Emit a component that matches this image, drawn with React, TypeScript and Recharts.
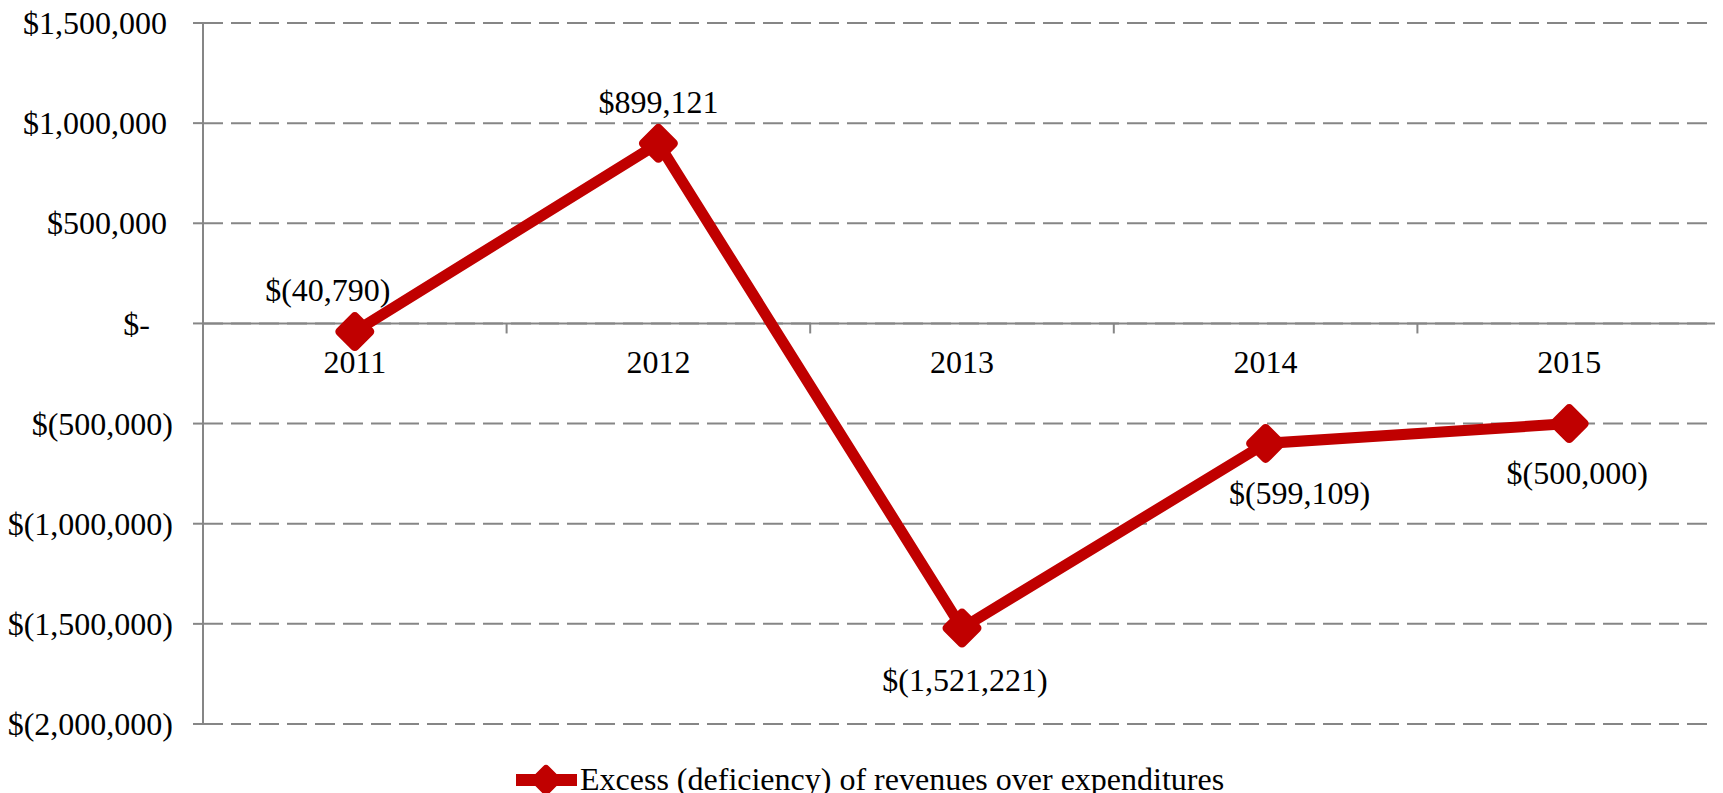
import { LineChart, Line, XAxis, YAxis, CartesianGrid, ReferenceLine, ReferenceDot, LabelList, Legend } from 'recharts'

const years = ['2011', '2012', '2013', '2014', '2015']
const excess = [-40790, 899121, -1521221, -599109, -500000]
const yTicks = [-2000000, -1500000, -1000000, -500000, 0, 500000, 1000000, 1500000]
const seriesName = 'Excess (deficiency) of revenues over expenditures'

// where each value label sits relative to its point (text centre)
const labelShift = [
  { dx: -27, dy: -42 },
  { dx: 0, dy: -42 },
  { dx: 3, dy: 52 },
  { dx: 34, dy: 49 },
  { dx: 8, dy: 49 },
]

const RED = '#C00000'
const GREY = '#868686'
const FONT = '"Liberation Serif", "Times New Roman", serif'
const FS = 32

const data = years.map((y, i) => ({ pos: i + 0.5, year: y, value: excess[i] }))
const bounds = years.map((_, i) => i).concat(years.length)

function money(v: number) {
  if (v === 0) return '$-'
  const s = Math.abs(v).toLocaleString('en-US')
  return v < 0 ? `$(${s})` : `$${s}`
}

function YTick({ x, y, payload }: any) {
  const v = payload.value
  const shift = v === 0 ? 23 : v > 0 ? 6 : 0
  return (
    <text x={x - shift} y={y} dy="0.35em" textAnchor="end" fontFamily={FONT} fontSize={FS} fill="#000">
      {money(v)}
    </text>
  )
}

function Diamond({ cx, cy }: any) {
  if (cx == null || cy == null) return null
  return (
    <polygon
      points={`${cx},${cy - 15} ${cx + 15},${cy} ${cx},${cy + 15} ${cx - 15},${cy}`}
      fill={RED} stroke={RED} strokeWidth={9} strokeLinejoin="round"
    />
  )
}

function ValueLabel({ x, y, value, index }: any) {
  const s = labelShift[index]
  return (
    <text x={x + s.dx} y={y + s.dy} dy="0.35em" textAnchor="middle" fontFamily={FONT} fontSize={FS} fill="#000">
      {money(value)}
    </text>
  )
}

function LegendBox() {
  return (
    <svg width={740} height={30} style={{ display: 'block' }}>
      <line x1={8} y1={17} x2={69} y2={17} stroke={RED} strokeWidth={12} />
      <polygon points="38,6 49,17 38,28 27,17" fill={RED} stroke={RED} strokeWidth={8} strokeLinejoin="round" />
      <text x={72} y={27} fontFamily={FONT} fontSize={FS} fill="#000">
        {seriesName}
      </text>
    </svg>
  )
}

export default function App() {
  return (
    <div style={{ width: 1715, height: 785, fontFamily: FONT }}>
      <LineChart width={1715} height={785} data={data} margin={{ top: 15, right: 2, left: 0, bottom: 69 }}>
        <CartesianGrid vertical={false} stroke={GREY} strokeWidth={2} strokeDasharray="20 8" />
        <XAxis type="number" dataKey="pos" domain={[0, years.length]} hide />
        <YAxis
          width={195}
          domain={[-2000000, 1500000]}
          ticks={yTicks}
          interval={0}
          tick={<YTick />}
          tickSize={10}
          tickMargin={20}
          tickLine={{ stroke: GREY, strokeWidth: 2 }}
          axisLine={{ stroke: GREY, strokeWidth: 2 }}
        />
        <ReferenceLine y={0} stroke={GREY} strokeWidth={2} />
        {bounds.map(b => (
          <ReferenceLine key={'b' + b} segment={[{ x: b, y: 0 }, { x: b, y: -50000 }]} stroke={GREY} strokeWidth={2} />
        ))}
        {data.map(d => (
          <ReferenceDot
            key={d.year}
            x={d.pos}
            y={0}
            r={1}
            fillOpacity={0}
            strokeOpacity={0}
            label={{
              content: (p: any) => {
                const vb = p.viewBox
                return (
                  <text x={vb.x + vb.width / 2} y={vb.y + vb.height / 2 + 38} dy="0.35em" textAnchor="middle" fontFamily={FONT} fontSize={FS} fill="#000">
                    {d.year}
                  </text>
                )
              },
            }}
          />
        ))}
        <Line
          dataKey="value"
          name={seriesName}
          stroke={RED}
          strokeWidth={11}
          strokeLinejoin="round"
          dot={<Diamond />}
          activeDot={false}
          isAnimationActive={false}
        >
          <LabelList dataKey="value" content={<ValueLabel />} />
        </Line>
        <Legend
          verticalAlign="middle"
          align="center"
          content={() => <LegendBox />}
          wrapperStyle={{ left: 500, top: 755, width: 740, height: 30 }}
        />
      </LineChart>
    </div>
  )
}
